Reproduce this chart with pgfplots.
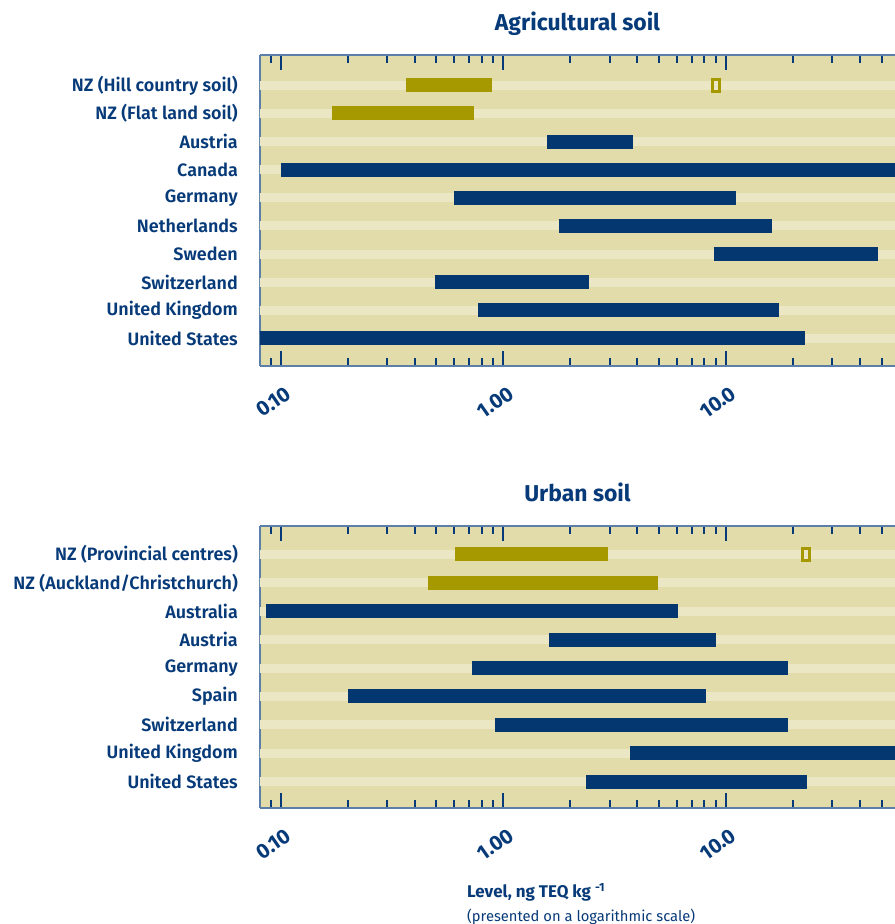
\documentclass[border=0pt]{standalone}
\usepackage{fontspec}
\setmainfont{Fira Sans}[BoldFont={* SemiBold}]
\newfontfamily\heavy{Fira Sans Bold}
\usepackage{pgfplots}
\pgfplotsset{compat=1.18}
\definecolor{barnavy}{HTML}{04366F}
\definecolor{txtnavy}{HTML}{073A78}
\definecolor{barolive}{HTML}{A69900}
\definecolor{bgtan}{HTML}{E2DCAA}
\definecolor{bgstripe}{HTML}{EBE6C4}
\definecolor{axisblue}{HTML}{5B7FA8}
\newcommand\tl[1]{\mbox{\heavy\fontsize{16}{16}\selectfont #1}}
\tikzset{
  stripe/.style={bgstripe, line width=9bp},
  nbar/.style={barnavy, line width=14bp},
  obar/.style={barolive, line width=14bp},
}
\begin{document}
\begin{tikzpicture}
\useasboundingbox (0,0) rectangle (895bp,-924bp);
% ---------------- Agricultural soil
\begin{axis}[xmode=log, scale only axis, width=635bp, height=311bp,
    at={(260bp,-366bp)}, anchor=south west,
    xmin=0.0805, xmax=57.5, ymin=-0.98, ymax=10.08,
    axis x line*=box, axis y line*=left,
    axis line style={draw=axisblue, line width=1.5bp},
    axis background/.style={fill=bgtan},
    xtick={0.1,1,10}, xticklabels={\tl{0.10},\tl{1.00},\tl{10.0}},
    minor xtick={0.09,0.2,0.3,0.4,0.5,0.6,0.7,0.8,0.9,2,3,4,5,6,7,8,9,20,30,40,50},
    tick align=inside,
    major tick length=15bp, minor tick length=8bp,
    tick style={draw=txtnavy, line width=2bp},
    xticklabel style={anchor=north east, inner sep=0pt, xshift=3.5bp, yshift=-19bp, rotate=35, scale=1.3,
      text=txtnavy},
    yticklabel style={font=\bfseries\fontsize{18}{18}\selectfont, text=txtnavy, inner sep=0pt, xshift=-22bp},
    title style={font=\heavy\fontsize{23}{23}\selectfont, text=txtnavy, at={(0.5,1)}, anchor=base, yshift=19bp},
  ytick={0,...,9},
  ytick style={draw=none},
  yticklabels={United States,United Kingdom,Switzerland,Sweden,Netherlands,Germany,Canada,Austria,NZ (Flat land soil),NZ (Hill country soil)},
  title={Agricultural soil}]
\addplot[stripe] coordinates {(0.01,0) (1000,0)};
\addplot[stripe] coordinates {(0.01,1) (1000,1)};
\addplot[stripe] coordinates {(0.01,2) (1000,2)};
\addplot[stripe] coordinates {(0.01,3) (1000,3)};
\addplot[stripe] coordinates {(0.01,4) (1000,4)};
\addplot[stripe] coordinates {(0.01,5) (1000,5)};
\addplot[stripe] coordinates {(0.01,6) (1000,6)};
\addplot[stripe] coordinates {(0.01,7) (1000,7)};
\addplot[stripe] coordinates {(0.01,8) (1000,8)};
\addplot[stripe] coordinates {(0.01,9) (1000,9)};
\addplot[obar] coordinates {(0.364,9) (0.887,9)};
\addplot[obar] coordinates {(0.169,8) (0.735,8)};
\addplot[nbar] coordinates {(1.57,7) (3.83,7)};
\addplot[nbar] coordinates {(0.10,6) (200,6)};
\addplot[nbar] coordinates {(0.60,5) (11.1,5)};
\addplot[nbar] coordinates {(1.77,4) (16.1,4)};
\addplot[nbar] coordinates {(8.8,3) (48.2,3)};
\addplot[nbar] coordinates {(0.49,2) (2.42,2)};
\addplot[nbar] coordinates {(0.77,1) (17.3,1)};
\addplot[nbar] coordinates {(0.05,0) (22.6,0)};
\addplot[only marks, mark=square, mark size=6bp,
    mark options={draw=barolive, line width=3bp, xscale=0.58, solid, fill=none}] coordinates {(9.0,9)};
\end{axis}
% ---------------- Urban soil
\begin{axis}[xmode=log, scale only axis, width=635bp, height=282bp,
    at={(260bp,-808bp)}, anchor=south west,
    xmin=0.0805, xmax=57.5, ymin=-0.93, ymax=9.0,
    axis x line*=box, axis y line*=left,
    axis line style={draw=axisblue, line width=1.5bp},
    axis background/.style={fill=bgtan},
    xtick={0.1,1,10}, xticklabels={\tl{0.10},\tl{1.00},\tl{10.0}},
    minor xtick={0.09,0.2,0.3,0.4,0.5,0.6,0.7,0.8,0.9,2,3,4,5,6,7,8,9,20,30,40,50},
    tick align=inside,
    major tick length=15bp, minor tick length=8bp,
    tick style={draw=txtnavy, line width=2bp},
    xticklabel style={anchor=north east, inner sep=0pt, xshift=3.5bp, yshift=-19bp, rotate=35, scale=1.3,
      text=txtnavy},
    yticklabel style={font=\bfseries\fontsize{18}{18}\selectfont, text=txtnavy, inner sep=0pt, xshift=-22bp},
    title style={font=\heavy\fontsize{23}{23}\selectfont, text=txtnavy, at={(0.5,1)}, anchor=base, yshift=19bp},
  ytick={0,...,8},
  ytick style={draw=none},
  yticklabels={United States,United Kingdom,Switzerland,Spain,Germany,Austria,Australia,NZ (Auckland/Christchurch),NZ (Provincial centres)},
  title={Urban soil},
  xlabel={{\heavy\fontsize{17}{24}\selectfont Level, ng TEQ kg \textsuperscript{-1}}\\{\fontsize{14.8}{24}\selectfont (presented on a logarithmic scale)}},
  xlabel style={at={(0.326,0)}, anchor=north west, yshift=-75bp,
    align=left, inner sep=0pt, text=txtnavy, font=\fontsize{14.8}{24}\selectfont}]
\addplot[stripe] coordinates {(0.01,0) (1000,0)};
\addplot[stripe] coordinates {(0.01,1) (1000,1)};
\addplot[stripe] coordinates {(0.01,2) (1000,2)};
\addplot[stripe] coordinates {(0.01,3) (1000,3)};
\addplot[stripe] coordinates {(0.01,4) (1000,4)};
\addplot[stripe] coordinates {(0.01,5) (1000,5)};
\addplot[stripe] coordinates {(0.01,6) (1000,6)};
\addplot[stripe] coordinates {(0.01,7) (1000,7)};
\addplot[stripe] coordinates {(0.01,8) (1000,8)};
\addplot[obar] coordinates {(0.605,8) (2.95,8)};
\addplot[obar] coordinates {(0.458,7) (4.96,7)};
\addplot[nbar] coordinates {(0.086,6) (6.08,6)};
\addplot[nbar] coordinates {(1.60,5) (9.04,5)};
\addplot[nbar] coordinates {(0.72,4) (19.0,4)};
\addplot[nbar] coordinates {(0.20,3) (8.1,3)};
\addplot[nbar] coordinates {(0.92,2) (19.0,2)};
\addplot[nbar] coordinates {(3.7,1) (200,1)};
\addplot[nbar] coordinates {(2.35,0) (23.1,0)};
\addplot[only marks, mark=square, mark size=6bp,
    mark options={draw=barolive, line width=3bp, xscale=0.58, solid, fill=none}] coordinates {(23.0,8)};
\end{axis}
\end{tikzpicture}
\end{document}
